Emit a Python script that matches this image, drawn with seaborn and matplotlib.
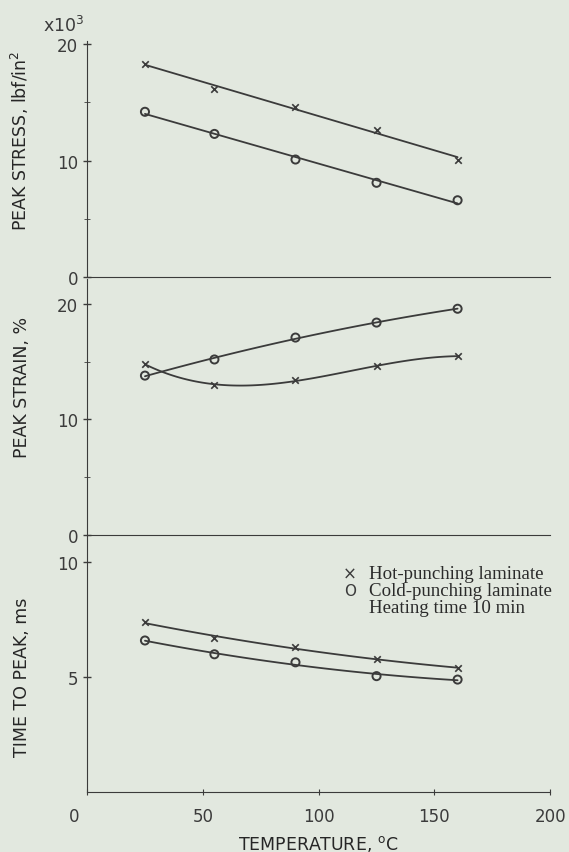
import seaborn as sns
import matplotlib.pyplot as plt
import matplotlib.transforms as mtransforms
import pandas as pd
import numpy as np

# data
temperature = [25, 55, 90, 125, 160]

stress_hot = [18.3, 16.2, 14.6, 12.6, 10.1]
stress_cold = [14.2, 12.3, 10.1, 8.1, 6.6]

strain_hot = [14.8, 13.0, 13.4, 14.6, 15.5]
strain_cold = [13.8, 15.2, 17.1, 18.4, 19.6]

time_hot = [7.4, 6.7, 6.3, 5.8, 5.4]
time_cold = [6.6, 6.0, 5.65, 5.05, 4.9]

x_ticks = [0, 50, 100, 150, 200]

paper = "#e2e8df"
ink = "#3b3b3b"

sns.set_style("ticks")
plt.rcParams['font.family'] = ['DejaVu Sans']
plt.rcParams['axes.edgecolor'] = ink
plt.rcParams['xtick.color'] = ink
plt.rcParams['ytick.color'] = ink
plt.rcParams['text.color'] = ink

fig = plt.figure(figsize=(5.69, 8.53), dpi=100, facecolor=paper)

left, width = 0.153, 0.814
ax3 = fig.add_axes([left, 0.070, width, 0.302])
ax2 = fig.add_axes([left, 0.372, width, 0.300])
ax1 = fig.add_axes([left, 0.674, width, 0.277])


def draw(ax, hot, cold, order_hot, order_cold):
    df = pd.DataFrame({"T": temperature, "hot": hot, "cold": cold})
    for col, order in [("hot", order_hot), ("cold", order_cold)]:
        sns.regplot(data=df, x="T", y=col, order=order, ci=None, scatter=False,
                    truncate=True, ax=ax, line_kws=dict(color=ink, lw=1.3))
    sns.scatterplot(data=df, x="T", y="hot", marker="x", s=22, color=ink,
                    linewidth=1.2, ax=ax, zorder=5)
    sns.scatterplot(data=df, x="T", y="cold", marker="o", s=34, facecolor="none",
                    edgecolor=ink, linewidth=1.4, ax=ax, zorder=5)
    ax.set_facecolor("none")
    ax.set_xlim(0, 200)
    sns.despine(ax=ax)
    ax.tick_params(axis="y", direction="inout", length=6, labelsize=12, width=1)
    ax.set_xlabel("")


draw(ax1, stress_hot, stress_cold, 1, 1)
draw(ax2, strain_hot, strain_cold, 3, 2)
draw(ax3, time_hot, time_cold, 2, 2)

# top panel
ax1.set_ylim(0, 20.3)
ax1.set_yticks([0, 10, 20])
ax1.set_yticks([5, 15], minor=True)
ax1.set_ylabel("PEAK STRESS, lbf/in$^2$", fontsize=12.5)
ax1.yaxis.set_label_coords(-0.12, 0.58)
ax1.set_xticks([])
ax1.text(-0.05, 1.025, "x10$^3$", transform=ax1.transAxes, fontsize=12.5,
         ha="center", va="bottom")

# middle panel
ax2.set_ylim(0, 22.2)
ax2.set_yticks([0, 10, 20])
ax2.set_yticks([5, 15], minor=True)
ax2.set_ylabel("PEAK STRAIN, %", fontsize=12.5)
ax2.yaxis.set_label_coords(-0.12, 0.58)
ax2.set_xticks([])

# bottom panel
ax3.set_ylim(0, 11.2)
ax3.set_yticks([5, 10])
ax3.set_ylabel("TIME TO PEAK, ms", fontsize=12.5)
ax3.yaxis.set_label_coords(-0.12, 0.45)
ax3.set_xticks(x_ticks)
ax3.tick_params(axis="x", direction="inout", length=5, labelsize=12, pad=8)
ax3.set_xlabel("TEMPERATURE, $^{\\mathregular{o}}$C", fontsize=12.5, labelpad=6)
first = ax3.get_xticklabels()[0]
first.set_transform(first.get_transform() +
                    mtransforms.ScaledTranslation(-0.13, 0, fig.dpi_scale_trans))

for ax in (ax1, ax2, ax3):
    ax.tick_params(axis="y", which="minor", direction="inout", length=5)

# legend as plain text block
serif = ["Liberation Serif", "DejaVu Serif"]
lx, tx = 0.567, 0.608
ax3.text(lx, 0.848, "\u00d7", transform=ax3.transAxes, fontsize=12, va="center",
         ha="center", family="DejaVu Sans")
ax3.text(tx, 0.848, "Hot-punching laminate", transform=ax3.transAxes,
         fontsize=13.6, va="center", family=serif, color="#2a2a2a")
ax3.text(lx, 0.782, "O", transform=ax3.transAxes, fontsize=11, va="center",
         ha="center", family="DejaVu Sans")
ax3.text(tx, 0.782, "Cold-punching laminate", transform=ax3.transAxes,
         fontsize=13.6, va="center", family=serif, color="#2a2a2a")
ax3.text(tx, 0.718, "Heating time 10 min", transform=ax3.transAxes,
         fontsize=13.6, va="center", family=serif, color="#2a2a2a")

plt.savefig("out.png", dpi=100, facecolor=paper)
